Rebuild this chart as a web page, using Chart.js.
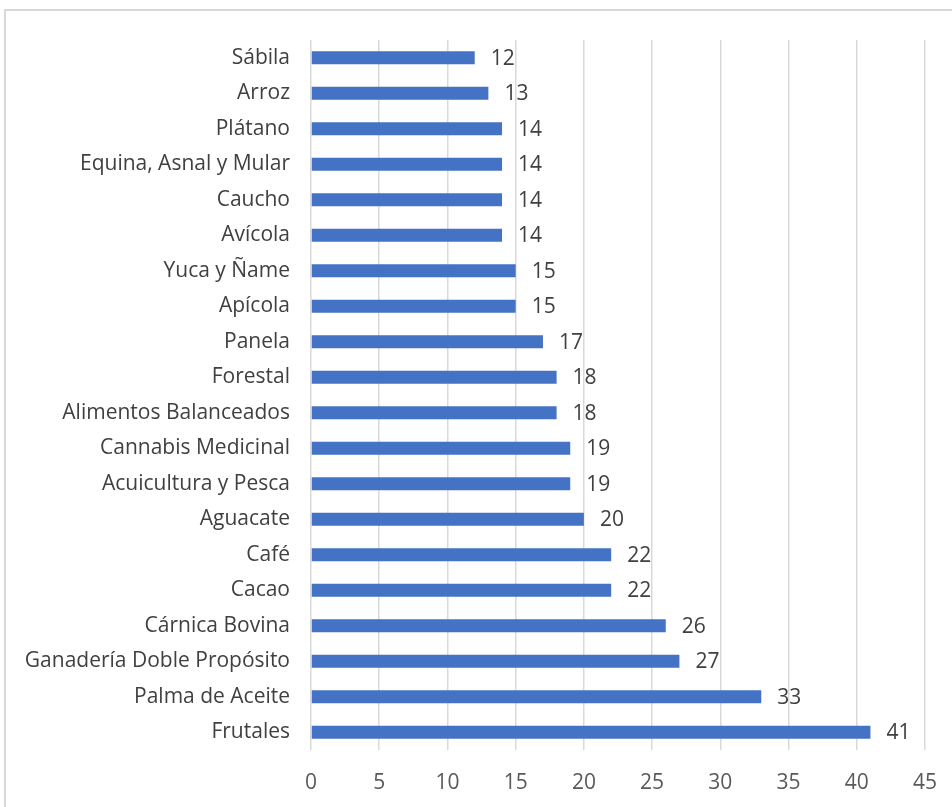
<!DOCTYPE html>
<html><head><meta charset="utf-8">
<script src="https://cdn.jsdelivr.net/npm/chart.js@4"></script>
<style>
html,body{margin:0;padding:0;background:#fff;}
#wrap{position:relative;width:952px;height:807px;overflow:hidden;}
#frame{position:absolute;left:4px;top:9px;width:1000px;height:1000px;border-left:2px solid #d9d9d9;border-top:2px solid #d9d9d9;}
canvas{position:absolute;left:0;top:0;}
</style></head>
<body><div id="wrap"><div id="frame"></div><canvas id="c" width="952" height="807"></canvas></div>
<script>
const categories = ["Sábila","Arroz","Plátano","Equina, Asnal y Mular","Caucho","Avícola","Yuca y Ñame","Apícola","Panela","Forestal","Alimentos Balanceados","Cannabis Medicinal","Acuicultura y Pesca","Aguacate","Café","Cacao","Cárnica Bovina","Ganadería Doble Propósito","Palma de Aceite","Frutales"];
const values = [12,13,14,14,14,14,15,15,17,18,18,19,19,20,22,22,26,27,33,41];
const xTicks = [0,5,10,15,20,25,30,35,40,45];

const FONT = "'Open Sans',sans-serif";
const labelPlugin = {
  id:'barLabels',
  afterDatasetsDraw(chart){
    const ctx = chart.ctx;
    const meta = chart.getDatasetMeta(0);
    ctx.save();
    ctx.font = "21px " + FONT;
    ctx.fillStyle = "#404040";
    ctx.textAlign = "left";
    ctx.textBaseline = "middle";
    meta.data.forEach((bar,i)=>{
      ctx.fillText(String(values[i]), bar.x + 16, bar.y + 1);
    });
    ctx.restore();
  }
};

new Chart(document.getElementById('c'), {
  type:'bar',
  data:{labels:categories, datasets:[{data:values, backgroundColor:'#4472C4', categoryPercentage:1, barPercentage:0.36}]},
  options:{
    indexAxis:'y', responsive:false, animation:false, devicePixelRatio:1,
    layout:{padding:{top:40,right:27,bottom:0,left:0}},
    plugins:{legend:{display:false},tooltip:{enabled:false}},
    scales:{
      x:{min:0,max:45,
        afterBuildTicks(s){ s.ticks = xTicks.map(v=>({value:v})); },
        afterFit(s){ s.height = 57; s.paddingRight = 0; s.paddingLeft = 0; },
        grid:{color:'#d9d9d9',lineWidth:1.5,drawTicks:false},
        border:{display:false},
        ticks:{padding:20,color:'#595959',font:{family:FONT,size:21}}
      },
      y:{
        afterFit(s){ s.width = 311; s.paddingTop = 0; s.paddingBottom = 0; },
        grid:{display:false,drawTicks:false},
        border:{display:false},
        ticks:{padding:21,color:'#404040',font:{family:FONT,size:21}}
      }
    }
  },
  plugins:[labelPlugin]
});
</script></body></html>
